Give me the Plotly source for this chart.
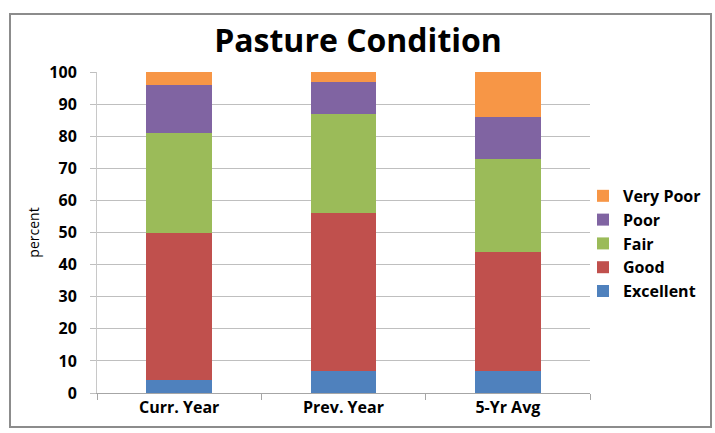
import plotly.graph_objects as go

categories = ["Curr. Year", "Prev. Year", "5-Yr Avg"]
excellent = [4, 7, 7]
good = [46, 49, 37]
fair = [31, 31, 29]
poor = [15, 10, 13]
very_poor = [4, 3, 14]

series = [
    ("Excellent", excellent, "#4F81BD"),
    ("Good", good, "#C0504D"),
    ("Fair", fair, "#9BBB59"),
    ("Poor", poor, "#8064A2"),
    ("Very Poor", very_poor, "#F79646"),
]

FONT = "'Open Sans', Arial, sans-serif"

fig = go.Figure()
for name, vals, col in series:
    fig.add_trace(go.Bar(x=categories, y=vals, name="<b>" + name + "</b>", marker_color=col,
                         marker_line_width=0, width=0.40))

fig.update_layout(
    barmode="stack",
    width=715, height=433,
    margin=dict(l=97, r=125, t=72, b=40, autoexpand=False),
    paper_bgcolor="white", plot_bgcolor="white",
    font=dict(family=FONT, color="#000000"),
    title=dict(text="<b>Pasture Condition</b>", x=358 / 715, xanchor="center",
               yref="container", y=1 - 41 / 433, yanchor="middle",
               font=dict(size=32, family=FONT, color="#000000")),
    legend=dict(traceorder="reversed", x=(583 - 97) / 493, xanchor="left",
                y=0.466, yanchor="middle",
                font=dict(size=16, family=FONT, color="#000000"), bgcolor="rgba(0,0,0,0)"),
    showlegend=True,
)
fig.update_xaxes(showline=True, linecolor="#A6A6A6", linewidth=1,
                 ticks="outside", tickson="boundaries", ticklen=6, tickcolor="#A6A6A6",
                 tickfont=dict(size=16, family=FONT, color="#000000"),
                 tickprefix="<b>", ticksuffix="</b>")
fig.update_yaxes(range=[0, 100], dtick=10, showgrid=True, gridcolor="#BFBFBF",
                 showline=True, linecolor="#C8C8C8", ticks="outside", ticklen=6,
                 tickcolor="#BFBFBF", tickprefix="<b>", ticksuffix="</b>",
                 ticklabelstandoff=10,
                 tickfont=dict(size=16, family=FONT, color="#000000"),
                 title=dict(text="percent", font=dict(size=14, family=FONT, color="#000000"),
                            standoff=6))

# outer chart border
fig.add_shape(type="rect", xref="paper", yref="paper",
              x0=(10 - 97) / 493, x1=(711 - 97) / 493,
              y0=(393 - 427) / 321, y1=(393 - 14) / 321,
              line=dict(color="#8C8C8C", width=2), fillcolor="rgba(0,0,0,0)", layer="below")

fig.write_html("out.html", config={"displayModeBar": False},
               post_script="document.body.style.margin='0';document.body.style.overflow='hidden';")
